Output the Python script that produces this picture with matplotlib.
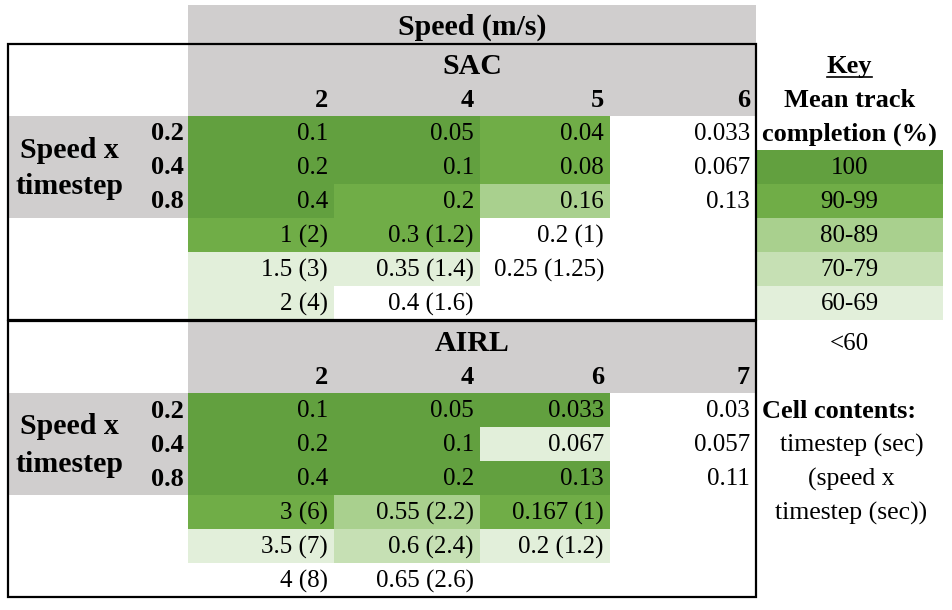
import matplotlib
matplotlib.use('Agg')
import matplotlib.pyplot as plt
from matplotlib import colors
from matplotlib.patches import Rectangle
import numpy as np

# Key: mean track completion (%) -> colour
key_labels = ['100', '90-99', '80-89', '70-79', '60-69', '<60']
key_colors = ['#62A03F', '#70AD47', '#A9D08E', '#C6E0B4', '#E2EFDA', '#FFFFFF']

row_labels = ['0.2', '0.4', '0.8']

sac_speeds = ['2', '4', '5', '6']
sac_text = [['0.1', '0.05', '0.04', '0.033'],
            ['0.2', '0.1', '0.08', '0.067'],
            ['0.4', '0.2', '0.16', '0.13'],
            ['1 (2)', '0.3 (1.2)', '0.2 (1)', ''],
            ['1.5 (3)', '0.35 (1.4)', '0.25 (1.25)', ''],
            ['2 (4)', '0.4 (1.6)', '', '']]
sac_level = [[0, 0, 1, 5],
             [0, 0, 1, 5],
             [0, 1, 2, 5],
             [1, 1, 5, 5],
             [4, 4, 5, 5],
             [4, 5, 5, 5]]

airl_speeds = ['2', '4', '6', '7']
airl_text = [['0.1', '0.05', '0.033', '0.03'],
             ['0.2', '0.1', '0.067', '0.057'],
             ['0.4', '0.2', '0.13', '0.11'],
             ['3 (6)', '0.55 (2.2)', '0.167 (1)', ''],
             ['3.5 (7)', '0.6 (2.4)', '0.2 (1.2)', ''],
             ['4 (8)', '0.65 (2.6)', '', '']]
airl_level = [[0, 0, 0, 5],
              [0, 0, 4, 5],
              [0, 0, 0, 5],
              [1, 2, 1, 5],
              [4, 3, 4, 5],
              [5, 5, 5, 5]]

contents_lines = ['timestep (sec)', '(speed x', 'timestep (sec))']

FONT = 'Liberation Serif'
FS = 18      # cell text
FS_BIG = 21.5  # main headers
FS_MID = 19  # key / row labels
GRAY = '#D0CECE'

# layout in pixels
left = 8
col_edges = np.array([188, 334, 480, 610, 756])
key_edges = np.array([756, 943])
title_h, head_h, row_h = 39, 33, 34
pad = 6

cmap = colors.ListedColormap(key_colors)
norm = colors.BoundaryNorm(np.arange(len(key_colors) + 1) - 0.5, cmap.N)


def txt(ax, x, y, s, bold=False, ha='right', size=FS):
    return ax.text(x, y, s, ha=ha, va='center', fontsize=size, family=FONT,
                   fontweight='bold' if bold else 'normal', color='black')


def block(ax, top, name, speeds, text, level):
    data_top = top + title_h + head_h
    ax.add_patch(Rectangle((col_edges[0], top), col_edges[-1] - col_edges[0],
                           title_h + head_h, color=GRAY, lw=0))
    ax.add_patch(Rectangle((left, data_top), col_edges[0] - left,
                           len(row_labels) * row_h, color=GRAY, lw=0))
    row_edges = data_top + row_h * np.arange(len(text) + 1)
    ax.pcolormesh(col_edges, row_edges, np.array(level), cmap=cmap, norm=norm,
                  edgecolors='none', antialiased=False)
    mid = (col_edges[0] + col_edges[-1]) / 2
    txt(ax, mid, top + title_h / 2 + 3, name, bold=True, ha='center', size=FS_BIG)
    for j, s in enumerate(speeds):
        txt(ax, col_edges[j + 1] - pad, top + title_h + head_h / 2 + 1, s,
            bold=True, size=FS_MID)
    for i, s in enumerate(row_labels):
        txt(ax, col_edges[0] - 4, row_edges[i] + row_h / 2 + 1, s, bold=True, size=FS_MID)
    yc = data_top + len(row_labels) * row_h / 2
    txt(ax, 69, yc - 17, 'Speed x', bold=True, ha='center', size=FS_BIG)
    txt(ax, 69, yc + 20, 'timestep', bold=True, ha='center', size=FS_BIG)
    for i, row in enumerate(text):
        for j, s in enumerate(row):
            if s:
                txt(ax, col_edges[j + 1] - pad, row_edges[i] + row_h / 2 + 1, s)
    ax.add_patch(Rectangle((left, top), col_edges[-1] - left,
                           title_h + head_h + len(text) * row_h,
                           fill=False, ec='black', lw=1.6, zorder=5))
    return row_edges


def main():
    fig = plt.figure(figsize=(9.52, 6.10), dpi=100)
    ax = fig.add_axes([0, 0, 1, 1])
    ax.set_xlim(0, 952)
    ax.set_ylim(610, 0)
    ax.axis('off')

    top_sac = 44
    ax.add_patch(Rectangle((col_edges[0], 5), col_edges[-1] - col_edges[0],
                           top_sac - 5, color=GRAY, lw=0))
    txt(ax, (col_edges[0] + col_edges[-1]) / 2, 27, 'Speed (m/s)', bold=True,
        ha='center', size=FS_BIG)

    sac_rows = block(ax, top_sac, 'SAC', sac_speeds, sac_text, sac_level)
    top_airl = int(sac_rows[-1]) + 1
    airl_rows = block(ax, top_airl, 'AIRL', airl_speeds, airl_text, airl_level)

    # key column
    kx = key_edges.mean()
    key_t = txt(ax, kx, top_sac + title_h / 2 + 3, 'Key', bold=True, ha='center', size=FS_MID)
    txt(ax, kx, top_sac + title_h + head_h / 2 + 1, 'Mean track', bold=True,
        ha='center', size=FS_MID)
    txt(ax, kx, sac_rows[0] + row_h / 2 + 1, 'completion (%)', bold=True,
        ha='center', size=FS_MID)
    key_rows = sac_rows[1] + row_h * np.arange(len(key_labels))
    ax.pcolormesh(key_edges, key_rows, np.arange(len(key_labels) - 1).reshape(-1, 1),
                  cmap=cmap, norm=norm, edgecolors='none', antialiased=False)
    for i, s in enumerate(key_labels[:-1]):
        txt(ax, kx, key_rows[i] + row_h / 2 + 1, s, ha='center')
    txt(ax, kx, top_airl + title_h / 2 + 3, key_labels[-1], ha='center')

    txt(ax, key_edges[0] + 6, airl_rows[0] + row_h / 2 + 1, 'Cell contents:',
        bold=True, ha='left', size=FS_MID)
    for i, s in enumerate(contents_lines):
        txt(ax, kx + 2, airl_rows[i + 1] + row_h / 2 + 1, s, ha='center', size=18.5)

    # underline for "Key"
    fig.canvas.draw()
    bb = key_t.get_window_extent().transformed(ax.transData.inverted())
    ax.plot([bb.x0, bb.x1], [bb.y0 - 1, bb.y0 - 1], color='black', lw=1.2)

    fig.savefig('out.png', dpi=100)


main()
